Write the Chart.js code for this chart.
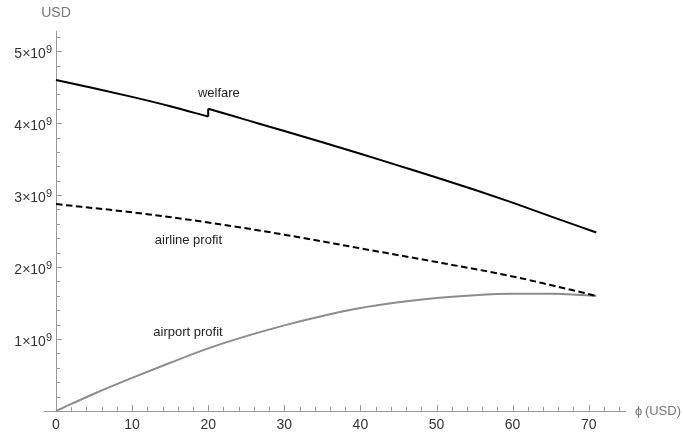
<!DOCTYPE html>
<html>
<head>
<meta charset="utf-8">
<script src="https://cdn.jsdelivr.net/npm/chart.js@4"></script>
<style>
  html, body { margin: 0; padding: 0; background: #fff; }
  #wrap { width: 683px; height: 436px; }
</style>
</head>
<body>
<div id="wrap"><canvas id="chart" width="683" height="436"></canvas></div>
<script>
// values in units of 1e9 USD, phi in USD
// welfare has a jump at phi = 20: left branch, then right branch
const welfareLeftX = [0, 5, 10, 15, 20];
const welfareLeftY = [4.60, 4.485, 4.365, 4.235, 4.09];
const welfareRightX = [20, 25, 30, 35, 40, 45, 50, 55, 60, 65, 71];
const welfareRightY = [4.20, 4.045, 3.89, 3.735, 3.575, 3.41, 3.245, 3.075, 2.895, 2.705, 2.48];

const airlineX = [0, 10, 20, 30, 40, 50, 60, 65, 71];
const airlineY = [2.875, 2.76, 2.62, 2.45, 2.26, 2.07, 1.87, 1.75, 1.60];

const airportX = [0, 5, 10, 15, 20, 25, 30, 35, 40, 45, 50, 55, 60, 65, 71];
const airportY = [0, 0.24, 0.46, 0.67, 0.87, 1.04, 1.19, 1.32, 1.43, 1.51, 1.57, 1.61, 1.63, 1.63, 1.60];

const xTicks = [0, 10, 20, 30, 40, 50, 60, 70];
const yTicks = [1, 2, 3, 4, 5];
const xMinorStep = 2;
const yMinorStep = 0.2;

// curve labels: [text, x, y]
const curveLabels = [
    ["welfare", 21.4, 4.41],
    ["airline profit", 17.4, 2.375],
    ["airport profit", 17.35, 1.09],
];

const toPoints = (xs, ys) => xs.map((x, i) => ({ x, y: ys[i] }));

const FONT = "'Liberation Sans', Arial, sans-serif";
const AXIS_COLOR = "#999999";

const axesPlugin = {
    id: "mmaAxes",
    beforeDatasetsDraw(chart) {
        const { ctx } = chart;
        const xs = chart.scales.x;
        const ys = chart.scales.y;
        const x0 = xs.getPixelForValue(0);
        const y0 = ys.getPixelForValue(0);
        ctx.save();
        ctx.strokeStyle = AXIS_COLOR;
        ctx.lineWidth = 1;
        ctx.beginPath();
        // x axis, sticks out a little left of the origin
        ctx.moveTo(x0 - 12, y0 + 0.5);
        ctx.lineTo(xs.right, y0 + 0.5);
        // y axis
        ctx.moveTo(x0 + 0.5, y0);
        ctx.lineTo(x0 + 0.5, ys.top);
        // x ticks, pointing up
        for (let v = 0; v <= xs.max; v += xMinorStep) {
            const px = Math.round(xs.getPixelForValue(v)) + 0.5;
            const len = xTicks.includes(v) ? 6 : 4;
            ctx.moveTo(px, y0);
            ctx.lineTo(px, y0 - len);
        }
        // y ticks, pointing right
        for (let i = 1; i * yMinorStep <= ys.max; i++) {
            const py = Math.round(ys.getPixelForValue(i * yMinorStep)) + 0.5;
            const len = i % 5 === 0 ? 6 : 4;
            ctx.moveTo(x0, py);
            ctx.lineTo(x0 + len, py);
        }
        ctx.stroke();

        // tick labels
        ctx.fillStyle = "#333333";
        ctx.font = "14px " + FONT;
        ctx.textAlign = "center";
        ctx.textBaseline = "middle";
        xTicks.forEach((v) => {
            ctx.fillText(String(v), xs.getPixelForValue(v), y0 + 14);
        });
        yTicks.forEach((v) => {
            const py = ys.getPixelForValue(v);
            const right = x0 - 4;
            ctx.font = "11px " + FONT;
            const supW = ctx.measureText("9").width;
            ctx.textAlign = "right";
            ctx.textBaseline = "alphabetic";
            ctx.fillText("9", right, py + 2);
            ctx.font = "14px " + FONT;
            ctx.fillText(v + "\u00d710", right - supW, py + 7);
        });

        // axis titles
        ctx.fillStyle = "#777777";
        ctx.font = "14px " + FONT;
        ctx.textAlign = "center";
        ctx.textBaseline = "middle";
        ctx.fillText("USD", x0, 13);
        ctx.textAlign = "left";
        ctx.font = "13px 'Liberation Sans Narrow', " + FONT;
        ctx.fillText("\u03d5\u2009(USD)", xs.right + 9, y0);
        ctx.restore();
    },
    afterDatasetsDraw(chart) {
        const { ctx } = chart;
        const xs = chart.scales.x;
        const ys = chart.scales.y;
        ctx.save();
        ctx.fillStyle = "#222222";
        ctx.font = "13px " + FONT;
        ctx.textAlign = "center";
        ctx.textBaseline = "middle";
        curveLabels.forEach(([text, x, y]) => {
            ctx.fillText(text, xs.getPixelForValue(x), ys.getPixelForValue(y));
        });
        ctx.restore();
    },
};

const solid = (data, color) => ({
    data,
    borderColor: color,
    borderWidth: 2,
    cubicInterpolationMode: "monotone",
});

new Chart(document.getElementById("chart"), {
    type: "line",
    data: {
        datasets: [
            { label: "welfare", ...solid(toPoints(welfareLeftX, welfareLeftY), "#000000") },
            {
                label: "welfare jump",
                data: [
                    { x: welfareLeftX[welfareLeftX.length - 1], y: welfareLeftY[welfareLeftY.length - 1] },
                    { x: welfareRightX[0], y: welfareRightY[0] },
                ],
                borderColor: "#000000",
                borderWidth: 2,
                tension: 0,
            },
            { label: "welfare", ...solid(toPoints(welfareRightX, welfareRightY), "#000000") },
            {
                label: "airline profit",
                ...solid(toPoints(airlineX, airlineY), "#000000"),
                borderDash: [6.5, 3.5],
            },
            { label: "airport profit", ...solid(toPoints(airportX, airportY), "#8c8c8c") },
        ],
    },
    options: {
        responsive: false,
        devicePixelRatio: 1,
        animation: false,
        clip: false,
        layout: { padding: { left: 56, right: 57, top: 31, bottom: 25 } },
        elements: { point: { radius: 0 } },
        plugins: {
            legend: { display: false },
            tooltip: { enabled: false },
        },
        scales: {
            x: { type: "linear", min: 0, max: 74.9, display: false },
            y: { type: "linear", min: 0, max: 5.28, display: false },
        },
    },
    plugins: [axesPlugin],
});
</script>
</body>
</html>
